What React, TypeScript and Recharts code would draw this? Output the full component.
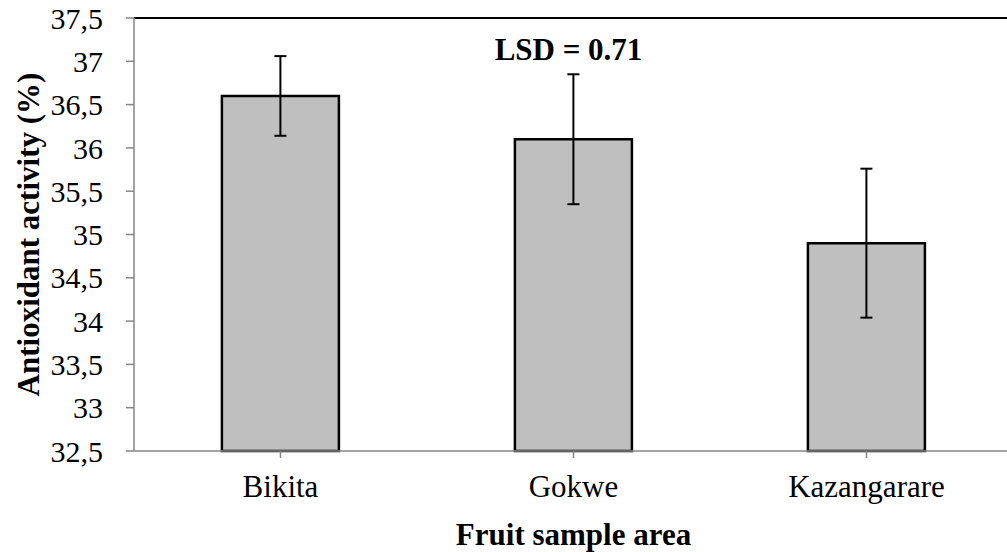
import {
  BarChart,
  Bar,
  XAxis,
  YAxis,
  ErrorBar,
  ReferenceLine,
  Label,
} from "recharts";

const areas = ["Bikita", "Gokwe", "Kazangarare"];
const activity = [36.6, 36.1, 34.9];
const errors = [0.46, 0.75, 0.86];
const yTicks = [32.5, 33, 33.5, 34, 34.5, 35, 35.5, 36, 36.5, 37, 37.5];

const data = areas.map((area, i) => ({
  area,
  activity: activity[i],
  err: errors[i],
}));

const font = "'Times New Roman', Tinos, 'Liberation Serif', 'DejaVu Serif', serif";
const axisGrey = "#868686";

export default function App() {
  return (
    <div
      style={{
        position: "absolute",
        left: 0,
        top: 0,
        width: 1007,
        height: 552,
        overflow: "hidden",
        background: "#fff",
        fontFamily: font,
      }}
    >
      <BarChart
        width={1020}
        height={552}
        data={data}
        margin={{ top: 18, right: 7, bottom: 0, left: 0 }}
        barCategoryGap="30%"
      >
        <XAxis
          dataKey="area"
          height={101}
          stroke={axisGrey}
          strokeWidth={1.5}
          tickSize={7}
          tickMargin={17}
          tick={{ fill: "#000", fontSize: 31, fontFamily: font }}
        >
          <Label
            value="Fruit sample area"
            position="insideBottom"
            offset={7}
            fontFamily={font}
            fontSize={31}
            fontWeight="bold"
            fill="#000"
          />
        </XAxis>
        <YAxis
          width={134}
          domain={[32.5, 37.5]}
          ticks={yTicks}
          interval={0}
          stroke={axisGrey}
          strokeWidth={1.5}
          tickSize={8}
          tickMargin={23}
          tickFormatter={(v: number) => String(v).replace(".", ",")}
          tick={{ fill: "#000", fontSize: 30, fontFamily: font }}
        >
          <Label
            value="Antioxidant activity (%)"
            angle={-90}
            position="center"
            dx={-39}
            fontFamily={font}
            fontSize={31}
            fontWeight="bold"
            fill="#000"
          />
        </YAxis>
        <ReferenceLine y={37.5} stroke="#000" strokeWidth={2}>
          <Label
            value="LSD = 0.71"
            position="insideTop"
            offset={20}
            dx={-5}
            fontFamily={font}
            fontSize={31}
            fontWeight="bold"
            fill="#000"
          />
        </ReferenceLine>
        <Bar
          dataKey="activity"
          fill="#bfbfbf"
          stroke="#000"
          strokeWidth={2.5}
          isAnimationActive={false}
        >
          <ErrorBar dataKey="err" width={6} stroke="#000" strokeWidth={2} />
        </Bar>
      </BarChart>
    </div>
  );
}
